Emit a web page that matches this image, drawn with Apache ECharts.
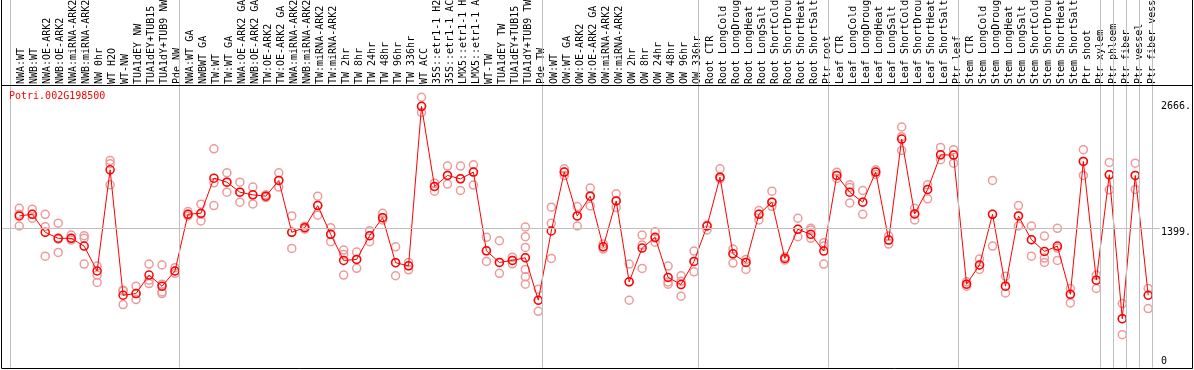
<!DOCTYPE html>
<html><head><meta charset="utf-8">
<script src="https://cdn.jsdelivr.net/npm/echarts@6/dist/echarts.min.js"></script>
<style>html,body{margin:0;padding:0;background:#fff}#c{width:1194px;height:370px}</style>
</head><body><div id="c"></div>
<script>
const geneName = 'Potri.002G198500';

const categories = [
 'NWA:WT','NWB:WT','NWA:OE-ARK2','NWB:OE-ARK2','NWA:miRNA-ARK2','NWB:miRNA-ARK2','NW 0hr','WT H2O','WT-NW','TUA1dEY NW','TUA1dEY+TUB15','TUA1dY+TUB9 NW','Pde NW',
 'NWA:WT GA','NWBWT GA','TW:WT','TW:WT GA','NWA:OE-ARK2 GA','NWB:OE-ARK2 GA','TW:OE-ARK2','TW:OE-ARK2 GA','NWA:miRNA-ARK2','NWB:miRNA-ARK2','TW:miRNA-ARK2','TW:miRNA-ARK2',
 'TW 2hr','TW 8hr','TW 24hr','TW 48hr','TW 96hr','TW 336hr','WT ACC','35S::etr1-1 H2O','35S::etr1-1 ACC','LMX5::etr1-1 H2O','LMX5::etr1-1 ACC','WT-TW','TUA1dEY TW','TUA1dEY+TUB15','TUA1dY+TUB9 TW','Pde TW',
 'OW:WT','OW:WT GA','OW:OE-ARK2','OW:OE-ARK2 GA','OW:miRNA-ARK2','OW:miRNA-ARK2','OW 2hr','OW 8hr','OW 24hr','OW 48hr','OW 96hr','OW 336hr',
 'Root CTR','Root LongCold','Root LongDrought','Root LongHeat','Root LongSalt','Root ShortCold','Root ShortDrought','Root ShortHeat','Root ShortSalt','Ptr root',
 'Leaf CTR','Leaf LongCold','Leaf LongDrought','Leaf LongHeat','Leaf LongSalt','Leaf ShortCold','Leaf ShortDrought','Leaf ShortHeat','Leaf ShortSalt','Ptr leaf',
 'Stem CTR','Stem LongCold','Stem LongDrought','Stem LongHeat','Stem LongSalt','Stem ShortCold','Stem ShortDrought','Stem ShortHeat','Stem ShortSalt','Ptr shoot','Ptr xylem',
 'Ptr phloem','Ptr fiber','Ptr vessel','Ptr fiber vessel'
];

const meanValues = [
 1523,1540,1359,1298,1298,1220,970,1987,726,743,929,817,970,
 1540,1550,1903,1863,1762,1735,1722,1880,1359,1405,1627,1338,
 1076,1086,1325,1506,1053,1022,2625,1819,1930,1896,1964,1173,1056,1076,1103,676,
 1372,1964,1523,1722,1213,1674,861,1200,1308,905,834,1066,
 1422,1913,1143,1056,1540,1661,1096,1389,1338,1170,
 1930,1762,1661,1964,1281,2296,1543,1789,2138,2135,
 837,1030,1540,817,1523,1284,1167,1220,736,2071,878,
 1937,491,1930,726
];

const replicateValues = [
 [1600,1540,1422],[1591,1540,1500],[1540,1415,1119],[1450,1290,1157],[1331,1298,1281],[1325,1298,1040],[1020,929,855],[2081,2048,1836],[777,770,633],[817,743,683],[1040,878,844],[1030,837,760,743],[1003,970,946],
 [1567,1540,1523],[1641,1540,1473],[2198,1856,1627],[1957,1863,1762],[1863,1762,1661],[1813,1735,1644],[1735,1722,1708],[1957,1880,1813],[1523,1359,1197],[1420,1405,1390],[1722,1630,1530],[1405,1338,1264],
 [1180,1136,929],[1160,1086,997],[1375,1325,1264],[1550,1506,1483],[1213,1053,922],[1056,1022,982],[2716,2625,2564],[1853,1819,1772],[2024,1930,1843],[2024,1896,1779],[2037,1964,1833],[1308,1173,1066],[1274,1056,946],[1109,1076,1042],[1412,1314,1207,1103,986,912,837],[787,676,565],
 [1611,1449,1096],[1997,1964,1930],[1617,1523,1422],[1803,1722,1624],[1240,1213,1190],[1745,1674,1607],[1040,861,676],[1331,1230,996],[1365,1300,1260],[1019,860,837],[921,866,716],[1170,1066,962],
 [1432,1422,1382],[1997,1913,1896],[1190,1143,1049],[1086,1056,986],[1577,1540,1483],[1772,1661,1620],[1110,1096,1080],[1500,1389,1314],[1399,1382,1298],[1254,1220,1040],
 [1963,1930,1900],[1836,1810,1654],[1779,1661,1540],[1987,1964,1940],[1321,1281,1240],[2417,2320,2182],[1600,1543,1483],[1836,1789,1695],[2212,2138,2088],[2189,2135,2054],
 [861,837,817],[1090,1030,986],[1880,1540,1220],[918,817,750],[1627,1523,1422],[1422,1284,1119],[1321,1100,1056],[1399,1200,1076],[794,736,649],[2189,2071,1930],[929,878,794],
 [2061,1937,1786],[643,491,330],[2054,1930,1790],[794,726,592]
];

const groupSizes = [13,28,12,10,10,11,1,1,1,1];
const yLabelValues = [1399,2666];
const yZeroLabel = [0];
const refLineValue = 1399;

// ---- layout (pixels) ----
const STEP = 13, X0 = 19.3;            // px of first category, px per category
const LABEL_SHIFT = 2;                  // rotated glyphs sit left of their anchor
const SEP_OFFSET = 8.6 / STEP;          // separator sits 8.6px before category slot point
const PLOT_L = 1, PLOT_R = 1162, PLOT_B = 367.5, REF_PX = 228.3, HEADER_B = 86;
const xMin = -(X0 - PLOT_L) / STEP;
const xMax = xMin + (PLOT_R - PLOT_L) / STEP;
const yMax = refLineValue * PLOT_B / (PLOT_B - REF_PX);

const meanData = meanValues.map((v, i) => [i, v]);
const repData = [];
replicateValues.forEach((arr, i) => arr.forEach(v => repData.push([i, v])));

const sepLines = [];
let acc = 0;
sepLines.push({ xAxis: acc - SEP_OFFSET });
groupSizes.forEach(s => { acc += s; sepLines.push({ xAxis: acc - SEP_OFFSET }); });

const mono = 'DejaVu Sans Mono';
const chart = echarts.init(document.getElementById('c'), null, { renderer: 'canvas' });
chart.setOption({
  animation: false,
  backgroundColor: '#fff',
  title: {
    text: geneName, left: 9, top: 91, padding: 0,
    textStyle: { color: '#ff0000', fontFamily: mono, fontSize: 10, fontWeight: 'normal' }
  },
  grid: [
    { left: PLOT_L, right: 1194 - PLOT_R, top: 0, bottom: 370 - PLOT_B },
    { left: X0 - STEP / 2 + LABEL_SHIFT, width: categories.length * STEP, top: HEADER_B, height: 1 }
  ],
  xAxis: [
    { gridIndex: 0, type: 'value', min: xMin, max: xMax, show: false },
    { gridIndex: 1, type: 'category', position: 'top', data: categories,
      axisLine: { show: false }, axisTick: { show: false }, splitLine: { show: false },
      axisLabel: { interval: 0, rotate: 90, margin: 3, fontFamily: mono, fontSize: 10, color: '#000' } }
  ],
  yAxis: [
    { gridIndex: 0, type: 'value', min: 0, max: yMax, position: 'right', offset: 0,
      axisLine: { show: false }, axisTick: { show: false }, splitLine: { show: false },
      axisLabel: { customValues: yLabelValues, margin: 1, align: 'left', verticalAlign: 'top', padding: [-1, 0, 0, 0],
        fontFamily: mono, fontSize: 10, color: '#000', formatter: v => v + '.' } },
    { gridIndex: 0, type: 'value', min: 0, max: yMax, position: 'right', offset: 0,
      axisLine: { show: false }, axisTick: { show: false }, splitLine: { show: false },
      axisLabel: { customValues: yZeroLabel, margin: 1, align: 'left', verticalAlign: 'bottom', padding: [0, 0, 1, 0],
        fontFamily: mono, fontSize: 10, color: '#000', formatter: v => String(v) } },
    { gridIndex: 1, type: 'value', show: false }
  ],
  series: [
    { type: 'line', xAxisIndex: 0, yAxisIndex: 0, data: [], z: 1, silent: true,
      markLine: { silent: true, symbol: 'none', label: { show: false },
        lineStyle: { color: '#c0c0c0', width: 1, type: 'solid' },
        data: sepLines.concat([{ yAxis: refLineValue }]) } },
    { type: 'scatter', xAxisIndex: 0, yAxisIndex: 0, data: repData, z: 2,
      symbol: 'circle', symbolSize: 8,
      itemStyle: { color: 'rgba(0,0,0,0)', borderColor: '#ee9a9a', borderWidth: 1.5, opacity: 1 } },
    { type: 'line', xAxisIndex: 0, yAxisIndex: 0, data: meanData, z: 3,
      symbol: 'circle', symbolSize: 8, showAllSymbol: true,
      lineStyle: { color: '#ff0000', width: 1 },
      itemStyle: { color: 'rgba(0,0,0,0)', borderColor: '#ff0000', borderWidth: 1.5 } }
  ],
  graphic: [
    { type: 'rect', silent: true, z: 100, shape: { x: 1.5, y: -1, width: 1191, height: 369.5 },
      style: { fill: 'none', stroke: '#000', lineWidth: 1 } },
    { type: 'line', silent: true, z: 100, shape: { x1: 1, y1: HEADER_B - 0.5, x2: 1193, y2: HEADER_B - 0.5 },
      style: { stroke: '#000', lineWidth: 1 } }
  ]
});
</script>
</body></html>
